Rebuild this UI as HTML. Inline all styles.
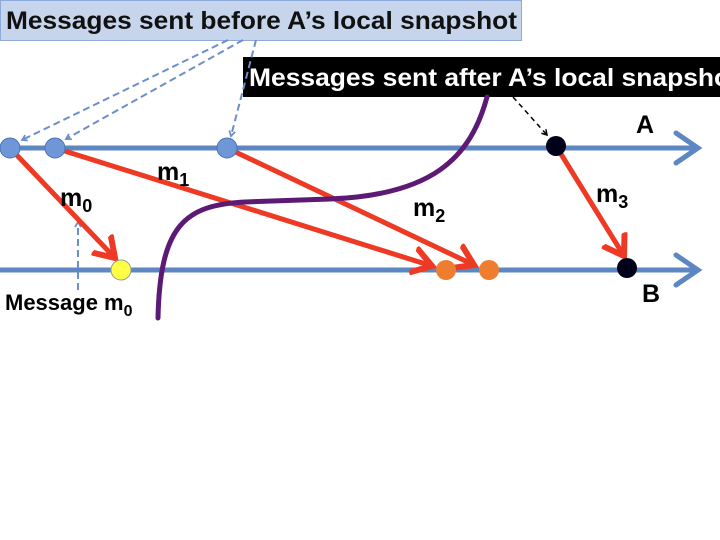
<!DOCTYPE html>
<html><head><style>
body{margin:0;width:720px;height:540px;background:#fff;overflow:hidden;font-family:"Liberation Sans",sans-serif}
svg{position:absolute;left:0;top:0}
text{font-family:"Liberation Sans",sans-serif;font-weight:bold}
</style></head><body>
<svg width="720" height="540" viewBox="0 0 720 540">
<defs>
<marker id="ra" markerWidth="6" markerHeight="6" refX="4" refY="3" orient="auto" markerUnits="strokeWidth"><path d="M0,0.4 L4,3 L0,5.6" fill="none" stroke="#ee3a24" stroke-width="1.2"/></marker>
<marker id="ba" markerWidth="8" markerHeight="8" refX="6" refY="4" orient="auto" markerUnits="userSpaceOnUse"><path d="M1,1 L6,4 L1,7" fill="none" stroke="#6d8fc8" stroke-width="1.8"/></marker>
<marker id="ka" markerWidth="8" markerHeight="8" refX="6" refY="4" orient="auto" markerUnits="userSpaceOnUse"><path d="M1,1 L6,4 L1,7" fill="none" stroke="#000" stroke-width="1.5"/></marker>
</defs>
<rect x="0.5" y="0.5" width="521" height="40" fill="#c7d5ec" stroke="#8eaadb"/>
<text x="6" y="29" font-size="25" fill="#111" textLength="511" lengthAdjust="spacingAndGlyphs">Messages sent before A’s local snapshot</text>
<rect x="243" y="57" width="477" height="40" fill="#000"/>
<text x="249" y="86" font-size="25" fill="#fff" textLength="490" lengthAdjust="spacingAndGlyphs">Messages sent after A’s local snapshot</text>
<g stroke="#5d87c2" stroke-width="5" fill="none" stroke-linecap="round">
<line x1="0" y1="148" x2="696" y2="148"/>
<path d="M676,133 L698,148 L676,163"/>
<line x1="0" y1="270" x2="696" y2="270"/>
<path d="M676,255 L698,270 L676,285"/>
</g>
<g stroke="#6d8fc8" stroke-width="2" stroke-dasharray="7,4" fill="none">
<line x1="228" y1="40" x2="22" y2="140" marker-end="url(#ba)"/>
<line x1="243" y1="40" x2="66" y2="139" marker-end="url(#ba)"/>
<line x1="256" y1="40" x2="231" y2="136" marker-end="url(#ba)"/>
<line x1="78" y1="290" x2="78" y2="222" marker-end="url(#ba)"/>
</g>
<line x1="513" y1="97" x2="547" y2="135" stroke="#000" stroke-width="1.5" stroke-dasharray="5,4" marker-end="url(#ka)"/>
<g stroke="#ee3a24" stroke-width="5" fill="none" stroke-linecap="round">
<line x1="10" y1="148" x2="115" y2="258" marker-end="url(#ra)"/>
<line x1="55" y1="148" x2="432" y2="266" marker-end="url(#ra)"/>
<line x1="227" y1="148" x2="474" y2="265" marker-end="url(#ra)"/>
<line x1="556" y1="146" x2="624" y2="256" marker-end="url(#ra)"/>
</g>
<path d="M487,97 C470,160 430,195 330,199 L245,202 C185,205 160,225 158,318" stroke="#5c1a74" stroke-width="5" fill="none" stroke-linecap="round"/>
<g stroke="#4a73b5" stroke-width="1" fill="#6f97d8">
<circle cx="10" cy="148" r="10"/><circle cx="55" cy="148" r="10"/><circle cx="227" cy="148" r="10"/>
</g>
<circle cx="556" cy="146" r="10" fill="#000018"/>
<circle cx="627" cy="268" r="10" fill="#000018"/>
<circle cx="121" cy="270" r="10" fill="#ffff44" stroke="#999" stroke-width="1"/>
<circle cx="446" cy="270" r="10" fill="#ef7d30"/>
<circle cx="489" cy="270" r="10" fill="#ef7d30"/>
<g font-size="25" fill="#000">
<text x="60" y="206">m<tspan font-size="18" dy="6">0</tspan></text>
<text x="157" y="180">m<tspan font-size="18" dy="6">1</tspan></text>
<text x="413" y="216">m<tspan font-size="18" dy="6">2</tspan></text>
<text x="596" y="202">m<tspan font-size="18" dy="6">3</tspan></text>
<text x="636" y="133">A</text>
<text x="642" y="302">B</text>
<text x="5" y="310" font-size="22">Message m<tspan font-size="16" dy="6">0</tspan></text>
</g>
</svg>
</body></html>
